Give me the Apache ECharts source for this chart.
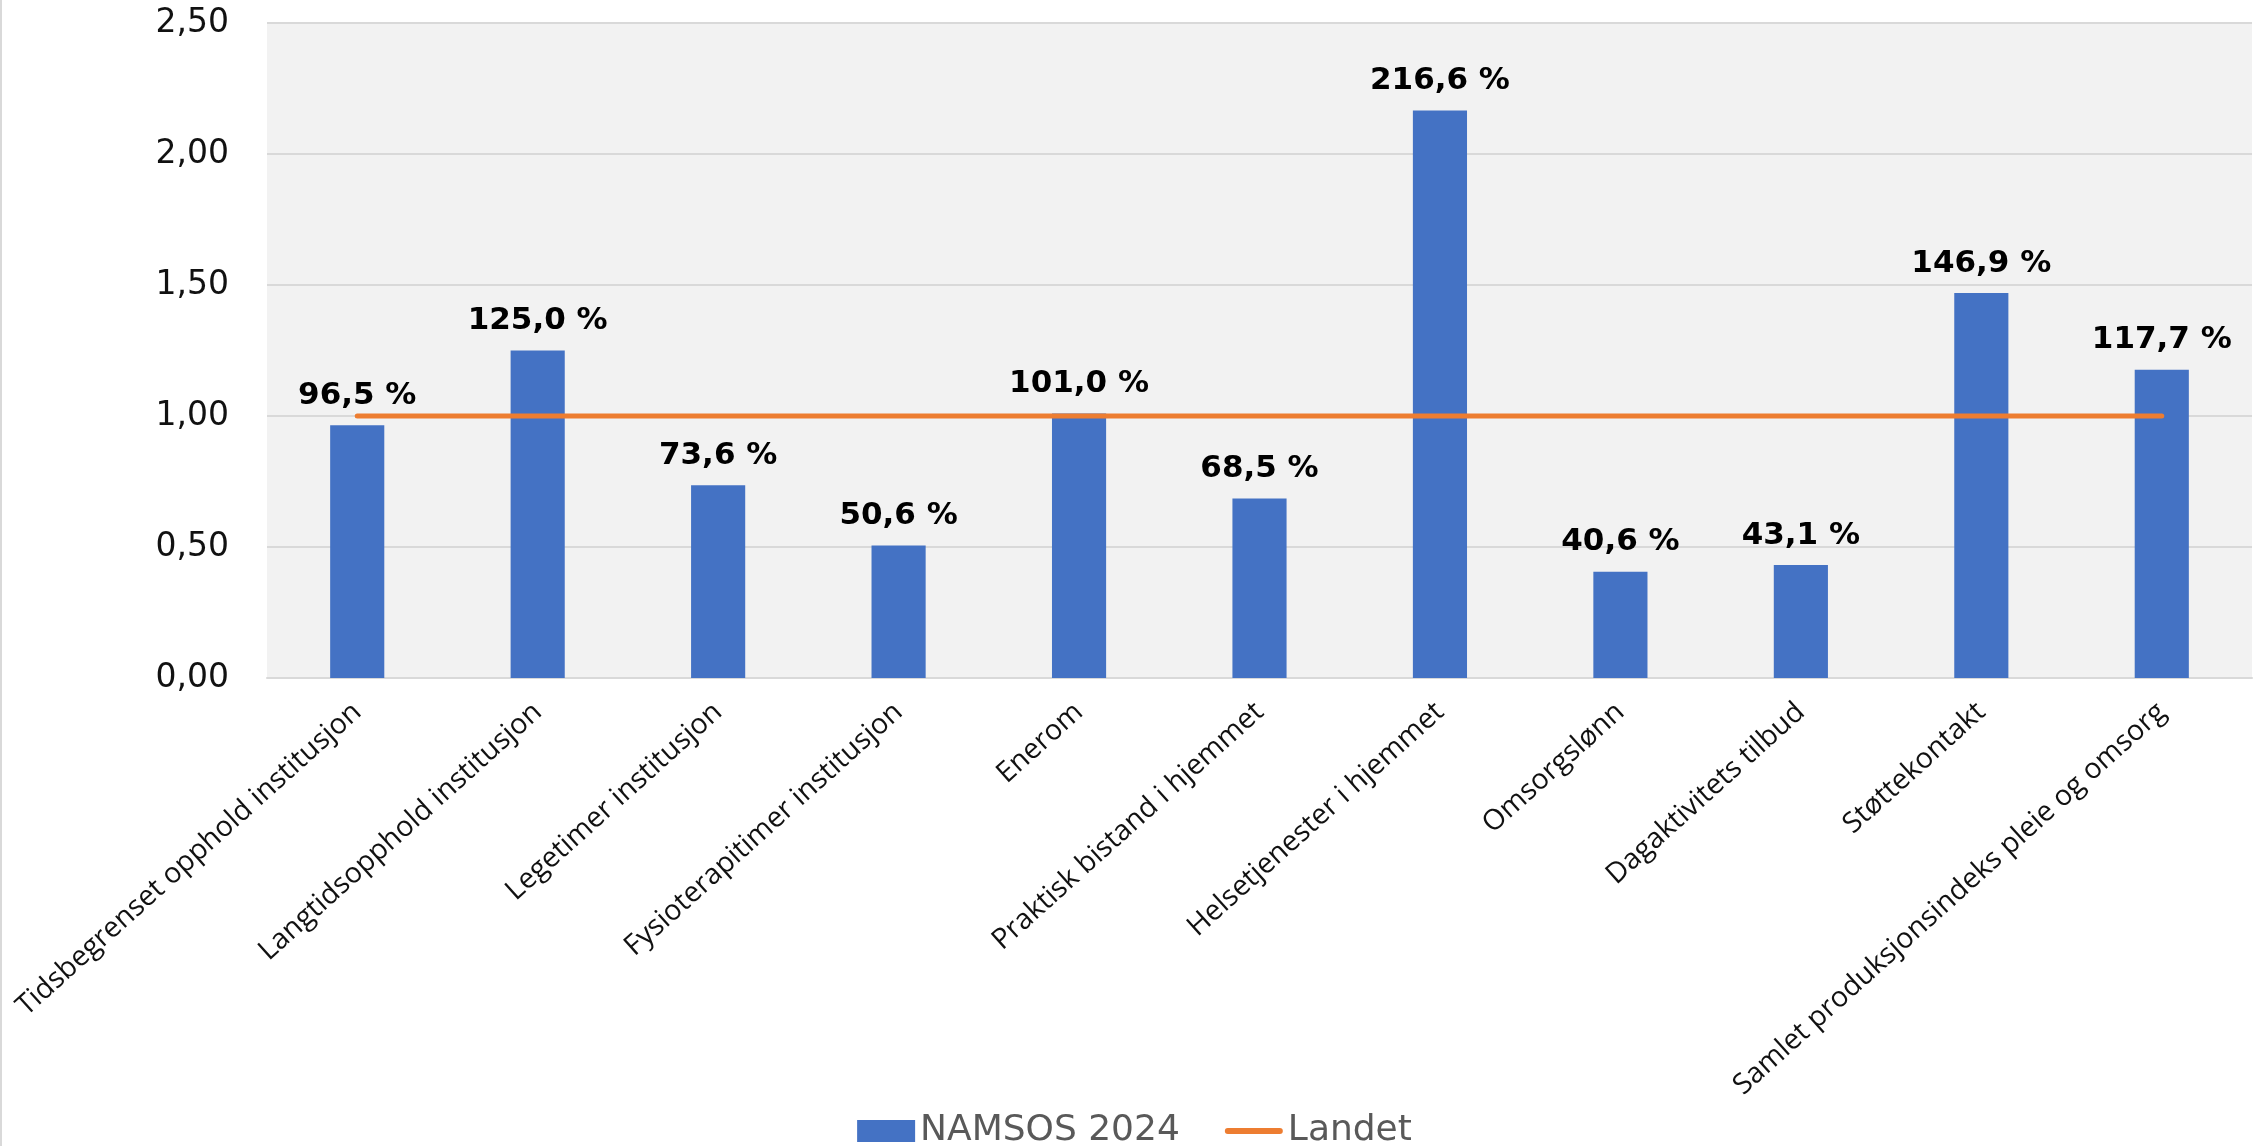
<!DOCTYPE html>
<html>
<head>
<meta charset="utf-8">
<script src="https://cdn.jsdelivr.net/npm/echarts@6/dist/echarts.min.js"></script>
<style>
html,body{margin:0;padding:0;background:#fff;}
#chart{width:2267px;height:1146px;box-sizing:border-box;border-left:2px solid #d9d9d9;}
</style>
</head>
<body>
<div id="chart"></div>
<script>
const categories = [
  "Tidsbegrenset opphold institusjon",
  "Langtidsopphold institusjon",
  "Legetimer institusjon",
  "Fysioterapitimer institusjon",
  "Enerom",
  "Praktisk bistand i hjemmet",
  "Helsetjenester i hjemmet",
  "Omsorgslønn",
  "Dagaktivitets tilbud",
  "Støttekontakt",
  "Samlet produksjonsindeks pleie og omsorg"
];
const namsos2024 = [0.965, 1.250, 0.736, 0.506, 1.010, 0.685, 2.166, 0.406, 0.431, 1.469, 1.177];
const landet = [1, 1, 1, 1, 1, 1, 1, 1, 1, 1, 1];
const yTicks = { min: 0, max: 2.5, interval: 0.5 };
const seriesNames = ["NAMSOS 2024", "Landet"];

const chart = echarts.init(document.getElementById('chart'));
const fmtNum = v => v.toFixed(2).replace('.', ',');
const fmtPct = v => (v * 100).toFixed(1).replace('.', ',') + ' %';

chart.setOption({
  animation: false,
  backgroundColor: '#ffffff',
  grid: { left: 265, right: 15, top: 23, bottom: 468, show: true, backgroundColor: '#f2f2f2', borderWidth: 0 },
  legend: {
    bottom: -8,
    left: 'center',
    itemGap: 45,
    itemWidth: 58,
    itemHeight: 22,
    textStyle: { fontFamily: 'DejaVu Sans', fontSize: 36, color: '#595959' },
    data: [
      { name: seriesNames[0], icon: 'rect' },
      { name: seriesNames[1], icon: 'path://M3,0 L55,0 A3,3 0 0 1 55,6 L3,6 A3,3 0 0 1 3,0 Z' }
    ]
  },
  xAxis: {
    type: 'category',
    data: categories,
    boundaryGap: true,
    axisTick: { show: false },
    axisLine: { lineStyle: { color: '#d9d9d9', width: 2 } },
    axisLabel: {
      interval: 0,
      rotate: 42,
      margin: 30,
      fontFamily: 'Open Sans',
      fontSize: 28.5,
      color: '#111'
    }
  },
  yAxis: {
    type: 'value',
    min: yTicks.min,
    max: yTicks.max,
    interval: yTicks.interval,
    axisLine: { show: false },
    axisTick: { show: false },
    splitLine: { lineStyle: { color: '#d9d9d9', width: 2 } },
    axisLabel: {
      formatter: fmtNum,
      margin: 38,
      fontFamily: 'DejaVu Sans',
      fontSize: 33,
      color: '#111'
    }
  },
  series: [
    {
      name: seriesNames[0],
      type: 'bar',
      data: namsos2024,
      barWidth: '30%',
      itemStyle: { color: '#4472C4' },
      label: {
        show: true,
        position: 'top',
        distance: 14,
        formatter: p => fmtPct(p.value),
        fontFamily: 'DejaVu Sans',
        fontWeight: 'bold',
        fontSize: 31,
        color: '#000'
      },
      z: 2
    },
    {
      name: seriesNames[1],
      type: 'line',
      data: landet,
      symbol: 'none',
      lineStyle: { color: '#ED7D31', width: 5, cap: 'round' },
      itemStyle: { color: '#ED7D31' },
      z: 3
    }
  ]
});
</script>
</body>
</html>
